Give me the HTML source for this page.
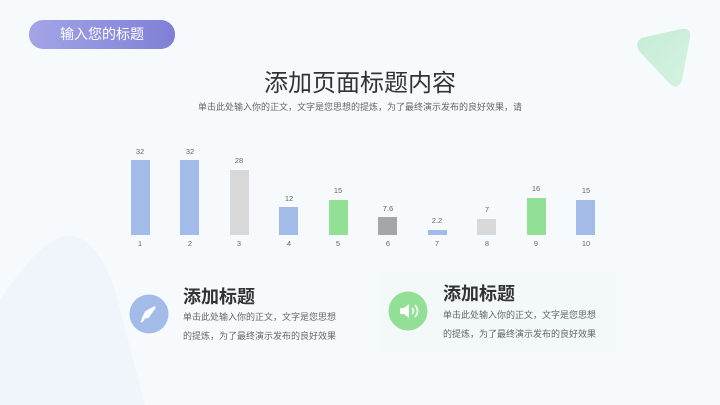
<!DOCTYPE html>
<html><head><meta charset="utf-8"><style>
*{margin:0;padding:0;box-sizing:border-box}
body{width:720px;height:405px;overflow:hidden;background:#f7fafd;font-family:"Liberation Sans","Noto Sans CJK SC",sans-serif;position:relative}
.abs{position:absolute}
.pill{left:29px;top:20px;width:146px;height:29px;border-radius:14px;background:linear-gradient(90deg,#a3a5e6,#7f7fd6);color:#fff;font-size:14px;line-height:29px;text-align:center}
.title{left:0;width:720px;top:63px;text-align:center;font-size:24px;color:#333}
.sub{left:0;width:720px;top:100px;text-align:center;font-size:9px;color:#666}
.h{font-size:18px;font-weight:bold;color:#333}
.p{font-size:9px;color:#666;line-height:19px}
</style></head><body>
<svg class="abs" style="left:0;top:0" width="720" height="405">
<defs><linearGradient id="g" x1="0" y1="0" x2="1" y2="1"><stop offset="0" stop-color="#c4ecd5"/><stop offset="1" stop-color="#d6f2e2"/></linearGradient></defs>
<path d="M0 300 Q40 240 65 236 Q95 232 115 290 L145 405 L0 405Z" fill="#f0f4fb"/>
<path d="M641 38 Q634 45 640 52 L670 84 Q678 91 682 80 L690 38 Q692 27 681 29 Z" fill="url(#g)"/>
<rect x="380" y="272" width="236" height="80" fill="#f3f8f9"/>
<g font-size="7.5" fill="#666" text-anchor="middle">
<rect x="131" y="160" width="19" height="75" fill="#a2bbe9"/><text x="140" y="154">32</text><text x="140" y="246">1</text>
<rect x="180" y="160" width="19" height="75" fill="#a2bbe9"/><text x="190" y="154">32</text><text x="190" y="246">2</text>
<rect x="230" y="170" width="19" height="65" fill="#d9d9d9"/><text x="239" y="163">28</text><text x="239" y="246">3</text>
<rect x="279" y="207" width="19" height="28" fill="#a2bbe9"/><text x="289" y="201">12</text><text x="289" y="246">4</text>
<rect x="329" y="200" width="19" height="35" fill="#92df96"/><text x="338" y="193">15</text><text x="338" y="246">5</text>
<rect x="378" y="217" width="19" height="18" fill="#a6a6a6"/><text x="388" y="211">7.6</text><text x="388" y="246">6</text>
<rect x="428" y="230" width="19" height="5" fill="#a2bbe9"/><text x="437" y="223">2.2</text><text x="437" y="246">7</text>
<rect x="477" y="219" width="19" height="16" fill="#d9d9d9"/><text x="487" y="212">7</text><text x="487" y="246">8</text>
<rect x="527" y="198" width="19" height="37" fill="#92df96"/><text x="536" y="191">16</text><text x="536" y="246">9</text>
<rect x="576" y="200" width="19" height="35" fill="#a2bbe9"/><text x="586" y="193">15</text><text x="586" y="246">10</text>
</g>
<circle cx="149" cy="314" r="19.5" fill="#a2bbe9"/>
<path d="M155 307 L146 312 L143 318 L148 317 Z M144 319 L141 322" stroke="#fff" stroke-width="2" fill="#fff"/>
<circle cx="408" cy="311" r="19.5" fill="#92df96"/>
<path d="M400 308 L404 308 L409 304 L409 318 L404 314 L400 314Z" fill="#fff"/>
<path d="M412 308 Q415 311 412 314 M415 305 Q420 311 415 317" stroke="#fff" stroke-width="1.6" fill="none"/>
</svg>
<div class="abs pill">输入您的标题</div>
<div class="abs title">添加页面标题内容</div>
<div class="abs sub">单击此处输入你的正文，文字是您思想的提炼，为了最终演示发布的良好效果，请</div>
<div class="abs h" style="left:183px;top:283px">添加标题</div>
<div class="abs p" style="left:183px;top:308px">单击此处输入你的正文，文字是您思想<br>的提炼，为了最终演示发布的良好效果</div>
<div class="abs h" style="left:443px;top:280px">添加标题</div>
<div class="abs p" style="left:443px;top:306px">单击此处输入你的正文，文字是您思想<br>的提炼，为了最终演示发布的良好效果</div>
</body></html>
